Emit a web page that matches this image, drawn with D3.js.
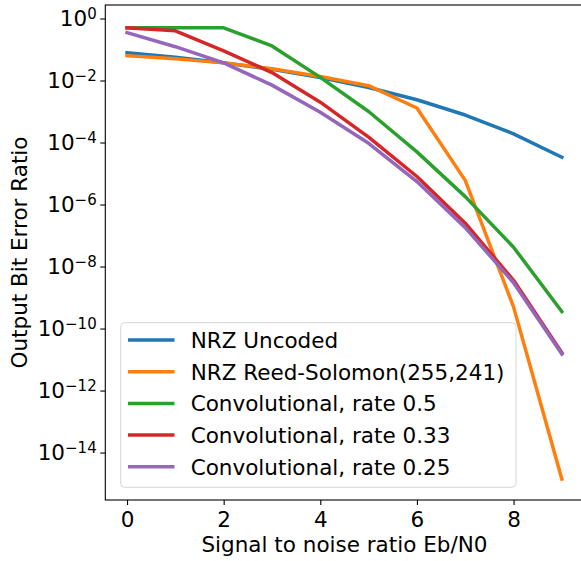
<!DOCTYPE html>
<html>
  <head>
    <meta charset="utf-8">
    <script src="https://d3js.org/d3.v7.min.js"></script>
    <style>
      body { margin: 0; background: #fff; }
      svg text { font-family: "DejaVu Sans", sans-serif; fill: #000; }
    </style>
  </head>
<body>
  <script type="text/javascript">
    // Eb/N0 values (x axis)
    var snr = [0, 1, 2, 3, 4, 5, 6, 7, 8, 9];

    // bit error ratio for each scheme
    var nrzUncoded = [0.0786, 0.0563, 0.0375, 0.0229, 0.0125, 0.00595, 0.00239, 7.7e-4, 1.9e-4, 3.36e-5];
    var nrzReedSolomon = [0.063, 0.05, 0.037, 0.024, 0.0135, 0.0068, 0.0013, 6e-6, 5e-10, 1.4e-15];
    var convRate50 = [0.5, 0.5, 0.5, 0.13, 0.0126, 1.0e-3, 5e-5, 1.8e-6, 4.2e-8, 3.5e-10];
    var convRate33 = [0.5, 0.4, 0.09, 0.018, 2.0e-3, 1.5e-4, 8e-6, 2.5e-7, 3.6e-9, 1.65e-11];
    var convRate25 = [0.35, 0.123, 0.037, 7.1e-3, 9.4e-4, 9.4e-5, 5.5e-6, 1.8e-7, 3e-9, 1.5e-11];

    var seriesNames = ["NRZ Uncoded", "NRZ Reed-Solomon(255,241)", "Convolutional, rate 0.5",
                       "Convolutional, rate 0.33", "Convolutional, rate 0.25"];
    var seriesValues = [nrzUncoded, nrzReedSolomon, convRate50, convRate33, convRate25];
    var colors = ["#1f77b4", "#ff7f0e", "#2ca02c", "#d62728", "#9467bd"];

    var xTicks = [0, 2, 4, 6, 8];
    var yTickExponents = [0, -2, -4, -6, -8, -10, -12, -14];

    var svgW = 581, svgH = 561;
    var plotL = 105.3, plotR = 583.6, plotT = 5, plotB = 500;
    var fontSize = 21.5;

    var svg = d3.select("body")
      .append("svg")
        .attr("width", svgW)
        .attr("height", svgH);

    var x = d3.scaleLinear()
      .domain([-0.45, 9.45])
      .range([plotL, plotR]);
    var y = d3.scaleLog()
      .domain([Math.pow(10, -15.53), Math.pow(10, 0.435)])
      .range([plotB, plotT]);

    svg.append("defs").append("clipPath")
        .attr("id", "plotclip")
      .append("rect")
        .attr("x", plotL).attr("y", plotT)
        .attr("width", plotR - plotL).attr("height", plotB - plotT);

    // lines
    var line = d3.line()
      .x(function(d, i) { return x(snr[i]); })
      .y(function(d) { return y(d); });

    svg.append("g")
        .attr("clip-path", "url(#plotclip)")
      .selectAll("path")
      .data(seriesValues)
      .enter()
      .append("path")
        .attr("d", line)
        .attr("fill", "none")
        .attr("stroke", function(d, i) { return colors[i]; })
        .attr("stroke-width", 3.5)
        .attr("stroke-linejoin", "round")
        .attr("stroke-linecap", "square");

    // x axis
    var xAxis = d3.axisBottom(x)
      .tickValues(xTicks)
      .tickSize(5)
      .tickPadding(7)
      .tickFormat(d3.format("d"));
    var gx = svg.append("g")
      .attr("transform", "translate(0," + plotB + ")")
      .call(xAxis);
    gx.attr("font-size", fontSize).attr("font-family", "DejaVu Sans");
    gx.select(".domain").remove();
    gx.selectAll("line").attr("stroke", "#000").attr("stroke-width", 1.1);

    // y axis, ticks at even decades with superscript labels
    var yAxis = d3.axisLeft(y)
      .tickValues(yTickExponents.map(function(e) { return Math.pow(10, e); }))
      .tickSize(5)
      .tickFormat("");
    var gy = svg.append("g")
      .attr("transform", "translate(" + plotL + ",0)")
      .call(yAxis);
    gy.select(".domain").remove();
    gy.selectAll("line").attr("stroke", "#000").attr("stroke-width", 1.1);

    var yLabels = svg.append("g")
      .selectAll("text")
      .data(yTickExponents)
      .enter()
      .append("text")
        .attr("x", plotL - 8.6)
        .attr("y", function(e) { return y(Math.pow(10, e)) + 7.5; })
        .attr("text-anchor", "end")
        .attr("font-size", fontSize);
    yLabels.append("tspan").text("10");
    yLabels.append("tspan")
      .attr("dy", -7)
      .attr("font-size", 15)
      .text(function(e) { return e < 0 ? "\u2212" + (-e) : String(e); });

    // spines (right one falls just outside the picture)
    svg.append("rect")
      .attr("x", plotL).attr("y", plotT)
      .attr("width", plotR - plotL).attr("height", plotB - plotT)
      .attr("fill", "none")
      .attr("stroke", "#000")
      .attr("stroke-width", 1.1);

    // axis labels
    svg.append("text")
      .attr("x", (plotL + plotR) / 2)
      .attr("y", 552)
      .attr("text-anchor", "middle")
      .attr("font-size", fontSize)
      .text("Signal to noise ratio Eb/N0");
    svg.append("text")
      .attr("transform", "translate(27," + (plotT + plotB) / 2 + ")rotate(-90)")
      .attr("text-anchor", "middle")
      .attr("font-size", fontSize)
      .text("Output Bit Error Ratio");

    // legend
    var legend = svg.append("g").attr("class", "legend");
    legend.append("rect")
      .attr("x", 120.7).attr("y", 322.7)
      .attr("width", 395.3).attr("height", 164.6)
      .attr("rx", 4).attr("ry", 4)
      .attr("fill", "#fff")
      .attr("fill-opacity", 0.8)
      .attr("stroke", "#d6d6d6")
      .attr("stroke-width", 1);
    var items = legend.selectAll("g.item")
      .data(seriesNames)
      .enter()
      .append("g")
        .attr("class", "item")
        .attr("transform", function(d, i) { return "translate(0," + (340 + 31.7 * i) + ")"; });
    items.append("line")
      .attr("x1", 128).attr("x2", 174.5)
      .attr("y1", 0).attr("y2", 0)
      .attr("stroke", function(d, i) { return colors[i]; })
      .attr("stroke-width", 3.5);
    items.append("text")
      .attr("x", 190.7)
      .attr("y", 7.8)
      .attr("font-size", fontSize)
      .text(function(d) { return d; });
  </script>
</body>
</html>
